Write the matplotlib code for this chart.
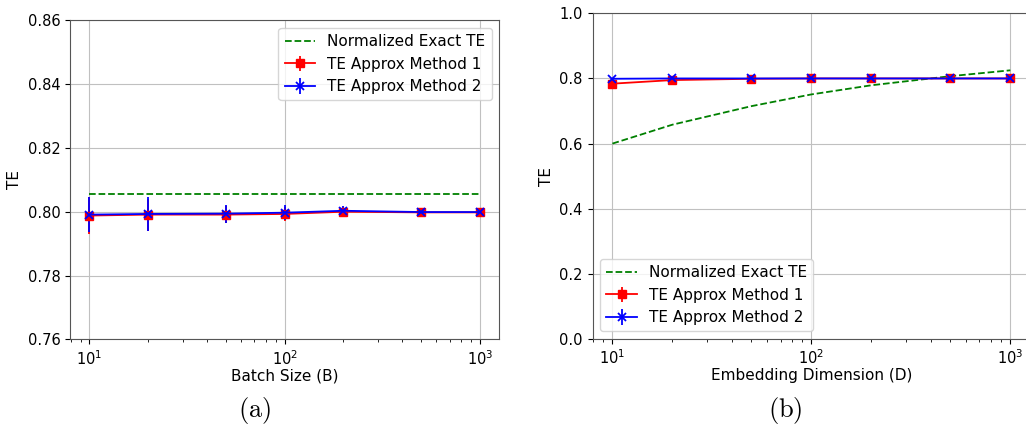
import matplotlib
matplotlib.use("Agg")
import matplotlib.pyplot as plt
import numpy as np

plt.rcParams['mathtext.fontset'] = 'cm'

# (a) Batch size
batch = [10, 20, 50, 100, 200, 500, 1000]
exact_a = [0.8056, 0.8056, 0.8056, 0.8056, 0.8056, 0.8056, 0.8056]
m1_a = [0.7988, 0.7991, 0.7991, 0.7993, 0.8000, 0.7998, 0.7998]
m1_a_err = [0.0058, 0.0050, 0.0026, 0.0022, 0.0010, 0.0005, 0.0005]
m2_a = [0.7991, 0.7993, 0.7994, 0.7997, 0.8003, 0.7999, 0.7999]
m2_a_err = [0.0055, 0.0052, 0.0028, 0.0023, 0.0014, 0.0005, 0.0004]

# (b) Embedding dimension
dim = [10, 20, 50, 100, 200, 500, 1000]
exact_b = [0.600, 0.658, 0.715, 0.751, 0.779, 0.807, 0.825]
m1_b = [0.784, 0.795, 0.799, 0.800, 0.800, 0.800, 0.800]
m1_b_err = [0.004, 0.003, 0.002, 0.002, 0.001, 0.001, 0.001]
m2_b = [0.799, 0.800, 0.800, 0.800, 0.800, 0.800, 0.800]
m2_b_err = [0.003, 0.002, 0.002, 0.001, 0.001, 0.001, 0.001]

fig = plt.figure(figsize=(10.26, 4.28), dpi=100)
ax1 = fig.add_axes([0.0682, 0.2072, 0.4184, 0.7453])
ax2 = fig.add_axes([0.5775, 0.2079, 0.4266, 0.7610])

TICK_FS = 10.5
LABEL_FS = 11
LEG_FS = 11

def draw(ax, x, ex, m1, e1, m2, e2, loc):
    ax.plot(x, ex, '--', color='green', lw=1.3, label='Normalized Exact TE')
    ax.errorbar(x, m1, yerr=e1, color='red', marker='s', ms=6, lw=1.3,
                label='TE Approx Method 1')
    ax.errorbar(x, m2, yerr=e2, color='blue', marker='x', ms=6, lw=1.3,
                mew=1.3, label='TE Approx Method 2')
    ax.set_xscale('log')
    ax.grid(True, color='#c0c0c0', lw=0.8)
    ax.set_axisbelow(True)
    ax.set_ylabel('TE', fontsize=LABEL_FS)
    ax.tick_params(labelsize=TICK_FS)
    for s in ax.spines.values():
        s.set_color('#555555')
    ax.legend(loc=loc, fontsize=LEG_FS)

draw(ax1, batch, exact_a, m1_a, m1_a_err, m2_a, m2_a_err, 'upper right')
ax1.set_ylim(0.76, 0.86)
ax1.set_yticks([0.76, 0.78, 0.80, 0.82, 0.84, 0.86])
ax1.set_xlabel('Batch Size (B)', fontsize=LABEL_FS, labelpad=0.5)

draw(ax2, dim, exact_b, m1_b, m1_b_err, m2_b, m2_b_err, 'lower left')
ax2.set_ylim(0.0, 1.0)
ax2.set_yticks([0.0, 0.2, 0.4, 0.6, 0.8, 1.0])
ax2.set_xlabel('Embedding Dimension (D)', fontsize=LABEL_FS, labelpad=0.5)

fig.text(255 / 1026, 1 - 410 / 428, r'$\mathrm{(a)}$', ha='center', va='center', fontsize=19)
fig.text(785 / 1026, 1 - 410 / 428, r'$\mathrm{(b)}$', ha='center', va='center', fontsize=19)

fig.savefig('out.png', dpi=100)
